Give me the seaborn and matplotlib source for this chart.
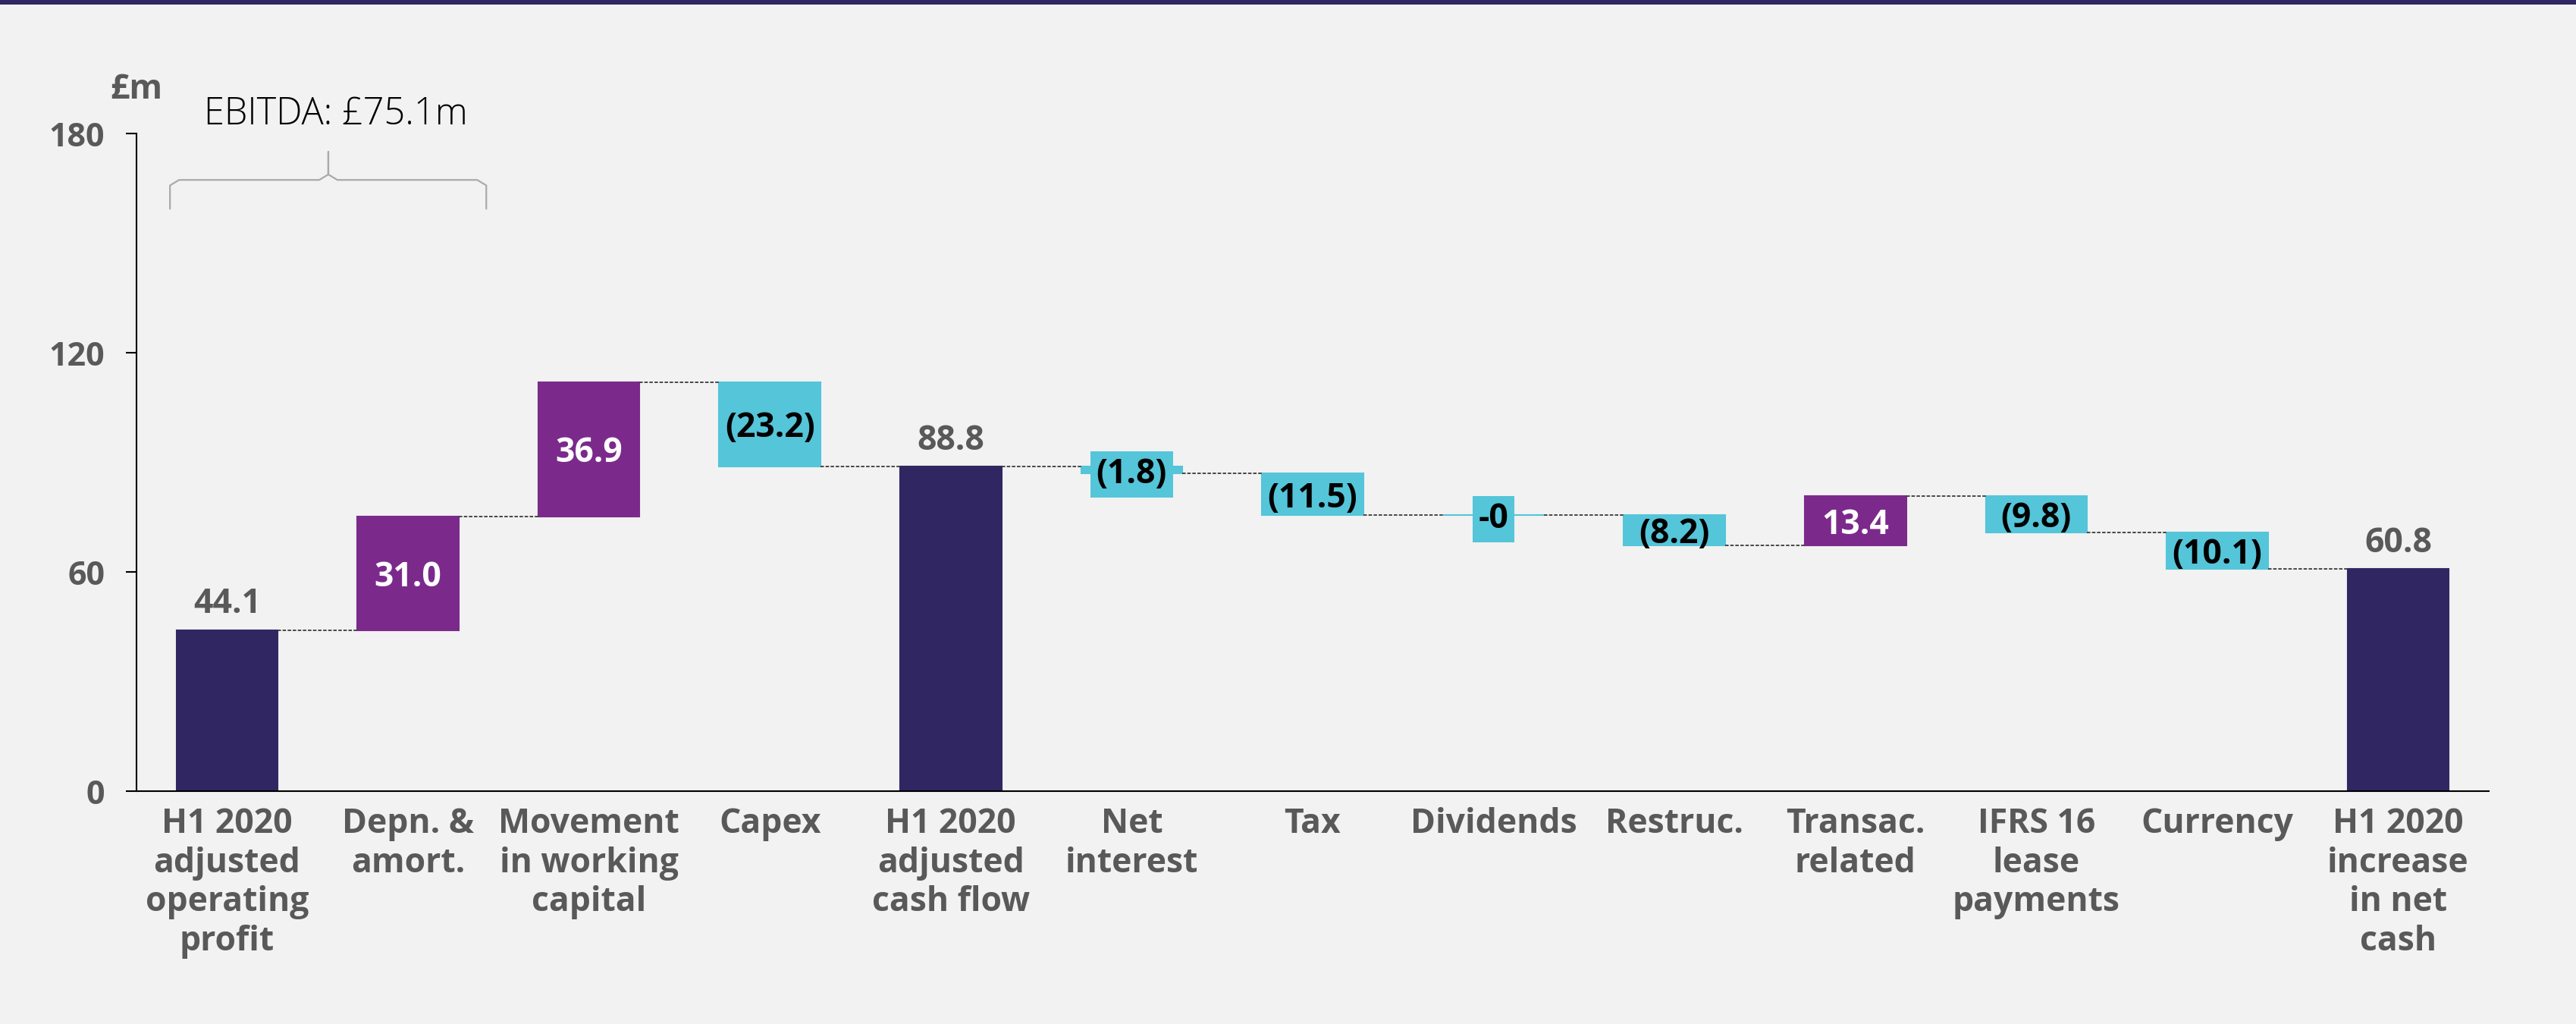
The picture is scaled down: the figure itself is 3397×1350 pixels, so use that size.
import matplotlib
matplotlib.use("Agg")
import matplotlib.pyplot as plt
import seaborn as sns
import numpy as np
import pandas as pd

# ---- data ----
categories = [
    "H1 2020\nadjusted\noperating\nprofit",
    "Depn. &\namort.",
    "Movement\nin working\ncapital",
    "Capex",
    "H1 2020\nadjusted\ncash flow",
    "Net\ninterest",
    "Tax",
    "Dividends",
    "Restruc.",
    "Transac.\nrelated",
    "IFRS 16\nlease\npayments",
    "Currency",
    "H1 2020\nincrease\nin net\ncash",
]
values = [44.1, 31.0, 36.9, -23.2, 88.8, -1.8, -11.5, -0.0, -8.2, 13.4, -9.8, -10.1, 60.8]
kinds = ["total", "up", "up", "down", "total", "down", "down", "down", "down", "up", "down", "down", "total"]
value_labels = ["44.1", "31.0", "36.9", "(23.2)", "88.8", "(1.8)", "(11.5)", "-0",
                "(8.2)", "13.4", "(9.8)", "(10.1)", "60.8"]
y_ticks = [0, 60, 120, 180]
ebitda_label = "EBITDA: £75.1m"
unit_label = "£m"

# ---- waterfall geometry from the values ----
bottoms, heights, levels = [], [], []
level = 0.0
for v, k in zip(values, kinds):
    if k == "total":
        level = v
        bottoms.append(0.0)
        heights.append(v)
    else:
        start = level
        level = level + v
        bottoms.append(min(start, level))
        heights.append(abs(v))
    levels.append(level)

df = pd.DataFrame({"category": categories, "height": heights})

colors = {"total": "#302762", "up": "#7B2A8C", "down": "#55C5D9"}
label_colors = {"total": "#595959", "up": "white", "down": "black"}
bg = "#F2F2F2"
grey = "#595959"

sns.set_theme(style="white")
plt.rcParams["font.family"] = ["Open Sans", "DejaVu Sans"]

fig = plt.figure(figsize=(33.97, 13.5), dpi=100, facecolor=bg)
ax = fig.add_axes([0.053, 0.2274, 0.9131, 0.6422])
ax.set_facecolor(bg)

bar_w = 0.56
sns.barplot(data=df, x="category", y="height", order=categories, bottom=bottoms,
            width=bar_w, errorbar=None, ax=ax, color=colors["total"])
for patch, k in zip(ax.patches, kinds):
    patch.set_facecolor(colors[k])
    patch.set_edgecolor(colors[k])
    patch.set_linewidth(1.5)

ax.set_xlim(-0.5, 12.5)
ax.set_ylim(0, 180)
ax.set_yticks(y_ticks)
ax.set_xlabel("")
ax.set_ylabel("")

# connectors
for i in range(len(values) - 1):
    ax.plot([i + bar_w / 2, i + 1 - bar_w / 2], [levels[i], levels[i]],
            color="#3a3a3a", lw=1.3, ls=(0, (2.5, 1.2)), zorder=1)

# value labels
for i, (k, lab) in enumerate(zip(kinds, value_labels)):
    if k == "total":
        ax.annotate(lab, (i, heights[i]), xytext=(0, 8), textcoords="offset points",
                    ha="center", va="bottom", fontsize=32, fontweight="bold", color=grey)
    else:
        yc = bottoms[i] + heights[i] / 2
        kw = {}
        if heights[i] < 5:
            kw["bbox"] = dict(boxstyle="square,pad=0.18", fc=colors[k], ec="none")
        ax.text(i, yc, lab, ha="center", va="center_baseline", fontsize=32,
                fontweight="bold", color=label_colors[k], zorder=5, **kw)

# axes styling
for s in ["top", "right"]:
    ax.spines[s].set_visible(False)
for s in ["left", "bottom"]:
    ax.spines[s].set_color("black")
    ax.spines[s].set_linewidth(1.5)
ax.tick_params(axis="y", length=10, width=1.5, color="black", pad=20,
               labelsize=31, labelcolor=grey, left=True)
ax.tick_params(axis="x", length=0, pad=15, labelsize=32, labelcolor=grey)
for t in ax.get_yticklabels():
    t.set_fontweight("bold")
for t in ax.get_xticklabels():
    t.set_fontweight("bold")
    t.set_linespacing(1.2)

# unit label
ax.text(0.0, 1.04, unit_label, transform=ax.transAxes, ha="center", va="bottom",
        fontsize=32, fontweight="bold", color=grey)

# EBITDA brace (between first two bars)
xl, xr, xc = -0.315, 1.433, 0.56
yb, yh, yt = 159.4, 167.3, 175.0
r = 0.05
brace_x = [xl, xl, xl + r, xc - r, xc, xc, xc, xc + r, xr - r, xr, xr]
brace_y = [yb, yh - 1.5, yh, yh, yh + 1.5, yt, yh + 1.5, yh, yh, yh - 1.5, yb]
ax.plot(brace_x, brace_y, color="#AAAAAA", lw=1.6, clip_on=False, zorder=3)
ax.text(xc + 0.04, 185.2, ebitda_label, ha="center", va="center", fontsize=35,
        fontweight="light", color="black", clip_on=False)

# top band
fig.patches.append(plt.Rectangle((0, 1 - 6 / 1350), 1, 6 / 1350, transform=fig.transFigure,
                                 facecolor="#302762", edgecolor="none", zorder=10))

fig.savefig("out.png", dpi=100, facecolor=bg)
